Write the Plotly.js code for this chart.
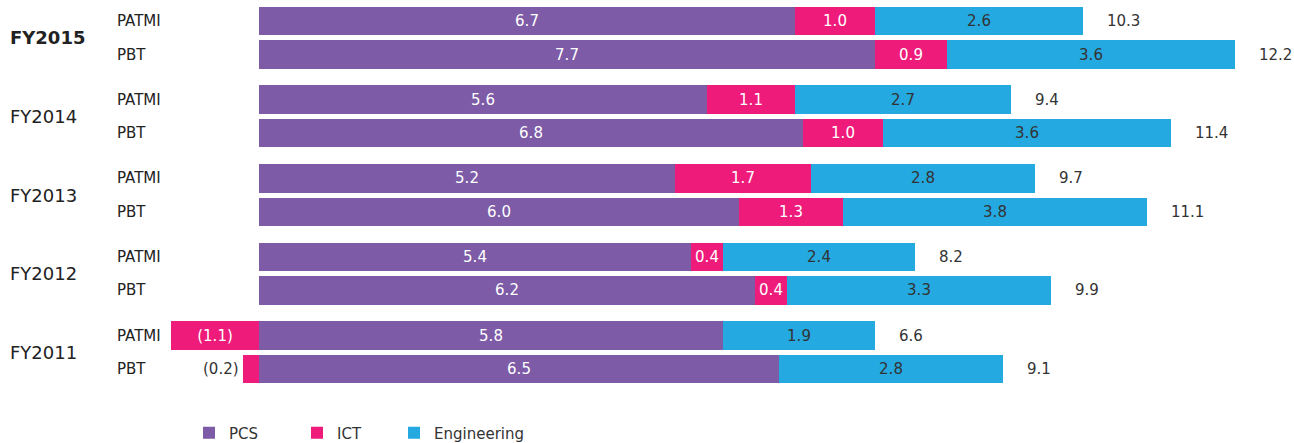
<!DOCTYPE html>
<html>
<head>
<meta charset="utf-8">
<script src="https://cdn.plot.ly/plotly-3.0.1.min.js"></script>
<style>html,body{margin:0;padding:0;background:#fff;}#chart{width:1294px;height:443px;}</style>
</head>
<body>
<div id="chart"></div>
<script>
// ---- Data ----
const years = ['FY2015', 'FY2014', 'FY2013', 'FY2012', 'FY2011'];
const metrics = ['PATMI', 'PBT'];
// order: FY2015 PATMI, FY2015 PBT, FY2014 PATMI, ...
const pcs = [6.7, 7.7, 5.6, 6.8, 5.2, 6.0, 5.4, 6.2, 5.8, 6.5];
const ict = [1.0, 0.9, 1.1, 1.0, 1.7, 1.3, 0.4, 0.4, -1.1, -0.2];
const eng = [2.6, 3.6, 2.7, 3.6, 2.8, 3.8, 2.4, 3.3, 1.9, 2.8];
const totals = [10.3, 12.2, 9.4, 11.4, 9.7, 11.1, 8.2, 9.9, 6.6, 9.1];
const seriesNames = ['PCS', 'ICT', 'Engineering'];

// ---- Styling ----
const W = 1294, H = 443;
const colors = ['#7D5BA6', '#EE1B7B', '#24A9E0'];
const textColors = ['#ffffff', '#ffffff', '#333333'];
const FONT = 'DejaVu Sans, sans-serif';
const groupStep = 2.343;      // distance between year groups (in bar units)
const pxPerUnitX = 80, zeroPx = 259;
const pxPerUnitY = 33.56, firstBarPx = 21;
const legendIds = ['legend', 'legend2', 'legend3'];
const legendLeftPx = [189, 297, 394];

const yPos = [];
years.forEach((y, i) => metrics.forEach((m, j) => yPos.push(i * groupStep + j)));

const fmt = v => v < 0 ? '(' + Math.abs(v).toFixed(1) + ')' : v.toFixed(1);
const small = v => Math.abs(v) < 0.3;

const seriesVals = [pcs, ict, eng];
const traces = seriesVals.map((vals, k) => ({
  type: 'bar',
  orientation: 'h',
  name: seriesNames[k],
  legend: legendIds[k],
  x: vals,
  y: yPos,
  width: 0.85,
  marker: {color: colors[k], line: {width: 0}},
  text: vals.map(v => small(v) ? '' : fmt(v)),
  textposition: 'inside',
  insidetextanchor: 'middle',
  textfont: {family: FONT, size: 15, color: textColors[k]},
  hoverinfo: 'skip',
  cliponaxis: false
}));

const annotations = [];
// totals at right end of each bar
totals.forEach((t, n) => {
  const end = pcs[n] + Math.max(ict[n], 0) + eng[n];
  annotations.push({x: end, y: yPos[n], xref: 'x', yref: 'y', text: t.toFixed(1),
    showarrow: false, xanchor: 'left', xshift: 22,
    font: {family: FONT, size: 15, color: '#333333'}});
});
// small negative values labelled outside
ict.forEach((v, n) => {
  if (small(v)) {
    annotations.push({x: Math.min(v, 0), y: yPos[n], xref: 'x', yref: 'y', text: fmt(v),
      showarrow: false, xanchor: 'right', xshift: -2,
      font: {family: FONT, size: 15, color: '#333333'}});
  }
});
// year labels and metric labels
years.forEach((yr, i) => {
  annotations.push({x: 8 / W, y: i * groupStep + 0.5, xref: 'paper', yref: 'y', text: yr,
    showarrow: false, xanchor: 'left',
    font: {family: FONT, size: 18, color: '#222222', weight: i === 0 ? 'bold' : 'normal'}});
  metrics.forEach((m, j) => {
    annotations.push({x: 115 / W, y: i * groupStep + j, xref: 'paper', yref: 'y', text: m,
      showarrow: false, xanchor: 'left',
      font: {family: FONT, size: 15, color: '#222222'}});
  });
});

const yTop = -firstBarPx / pxPerUnitY;
const yBottom = yTop + H / pxPerUnitY;
const layout = {
  width: W, height: H,
  margin: {l: 0, r: 0, t: 0, b: 0, pad: 0, autoexpand: false},
  paper_bgcolor: '#ffffff', plot_bgcolor: '#ffffff',
  barmode: 'relative',
  bargap: 0,
  xaxis: {range: [-zeroPx / pxPerUnitX, (W - zeroPx) / pxPerUnitX], showgrid: false,
    zeroline: false, showticklabels: false, ticks: '', fixedrange: true},
  yaxis: {range: [yBottom, yTop], showgrid: false, zeroline: false,
    showticklabels: false, ticks: '', fixedrange: true},
  showlegend: true,
  annotations: annotations,
  uniformtext: {mode: 'show', minsize: 15},
  font: {family: FONT}
};
legendIds.forEach((id, k) => {
  layout[id] = {orientation: 'h', x: legendLeftPx[k] / W, xanchor: 'left', y: 10 / H, yanchor: 'middle',
    font: {family: FONT, size: 15, color: '#333333'},
    bgcolor: 'rgba(0,0,0,0)', itemclick: false, itemdoubleclick: false};
});

Plotly.newPlot('chart', traces, layout, {displayModeBar: false, staticPlot: true});
</script>
</body>
</html>
